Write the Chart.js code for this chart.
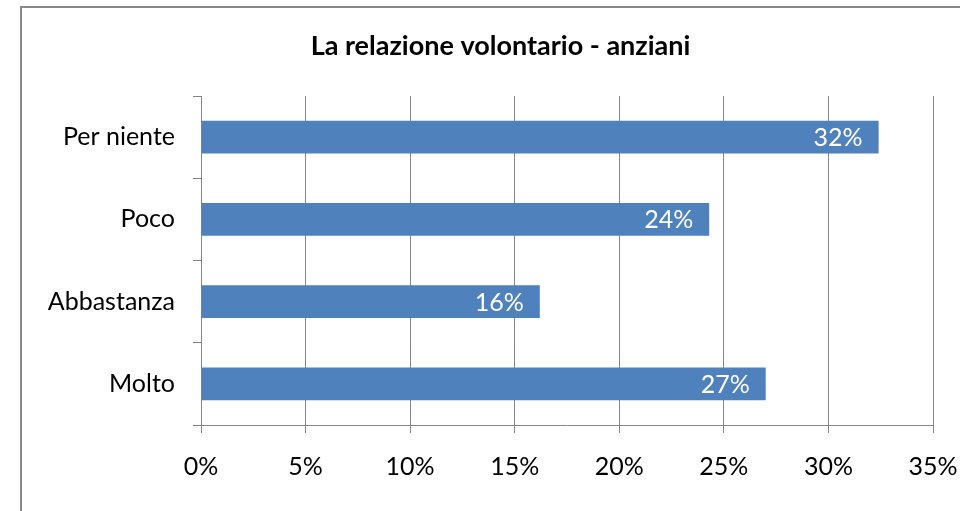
<!DOCTYPE html>
<html>
<head>
<meta charset="utf-8">
<script src="https://cdn.jsdelivr.net/npm/chart.js@4.4.1/dist/chart.umd.min.js"></script>
<style>
html,body{margin:0;padding:0;background:#ffffff;}
#wrap{position:relative;width:960px;height:511px;overflow:hidden;}
canvas{display:block;}
</style>
</head>
<body>
<div id="wrap"><canvas id="c" width="960" height="511"></canvas></div>
<script>
// ---- data ----
const categories = ['Per niente', 'Poco', 'Abbastanza', 'Molto'];
const values = [32.4, 24.3, 16.2, 27.0];
const valueLabels = ['32%', '24%', '16%', '27%'];
const xTickValues = [0, 5, 10, 15, 20, 25, 30, 35];
const chartTitle = 'La relazione volontario - anziani';

// ---- styles ----
const FONT = 'Lato, "Open Sans", "Liberation Sans", sans-serif';
const GRID = '#868686';
const BAR = '#4F81BD';

const framePlugin = {
  id: 'frame',
  beforeDraw(chart) {
    const ctx = chart.ctx;
    ctx.save();
    ctx.fillStyle = '#ffffff';
    ctx.fillRect(0, 0, chart.width, chart.height);
    ctx.strokeStyle = '#888888';
    ctx.lineWidth = 2;
    ctx.strokeRect(21, 7, chart.width + 100, chart.height + 100);
    ctx.restore();
  }
};

const titleShift = {
  id: 'titleShift',
  afterLayout(chart) {
    if (chart.titleBlock) { chart.titleBlock.left += 68; }
  }
};

const valueLabelPlugin = {
  id: 'valueLabels',
  afterDatasetsDraw(chart) {
    const ctx = chart.ctx;
    const meta = chart.getDatasetMeta(0);
    ctx.save();
    ctx.font = '25px ' + FONT;
    ctx.fillStyle = '#ffffff';
    ctx.textAlign = 'right';
    ctx.textBaseline = 'middle';
    meta.data.forEach((bar, i) => {
      ctx.fillText(valueLabels[i], bar.x - 16, bar.y + 1);
    });
    ctx.restore();
  }
};

new Chart(document.getElementById('c'), {
  type: 'bar',
  data: {
    labels: categories,
    datasets: [{
      data: values,
      backgroundColor: BAR,
      borderWidth: 0,
      categoryPercentage: 1.0,
      barPercentage: 0.4
    }]
  },
  options: {
    indexAxis: 'y',
    responsive: false,
    animation: false,
    devicePixelRatio: 1,
    layout: { padding: { left: 0, right: 27, top: 0, bottom: 0 } },
    plugins: {
      legend: { display: false },
      tooltip: { enabled: false },
      title: {
        display: true,
        text: chartTitle,
        color: '#000000',
        font: { family: FONT, size: 27, weight: 'bold', lineHeight: 1.2 },
        padding: { top: 30, bottom: 33.6 }
      }
    },
    scales: {
      x: {
        type: 'linear',
        min: 0,
        max: 35,
        afterBuildTicks(scale) { scale.ticks = xTickValues.map(v => ({ value: v })); },
        afterFit(scale) { scale.height = 86; scale.paddingRight = 0; scale.paddingLeft = 0; },
        ticks: {
          color: '#000000',
          font: { family: FONT, size: 25, lineHeight: 1.2 },
          padding: 19,
          maxRotation: 0,
          callback: v => v + '%'
        },
        grid: { color: GRID, lineWidth: 1, drawTicks: true, tickLength: 8 },
        border: { display: true, color: GRID, width: 1 }
      },
      y: {
        afterFit(scale) { scale.width = 201; },
        ticks: {
          color: '#000000',
          font: { family: FONT, size: 25, lineHeight: 1.2 },
          padding: 18
        },
        grid: { display: true, drawOnChartArea: false, drawTicks: true, tickLength: 8, color: GRID, offset: true },
        border: { display: true, color: GRID, width: 1 }
      }
    }
  },
  plugins: [framePlugin, titleShift, valueLabelPlugin]
});
</script>
</body>
</html>
